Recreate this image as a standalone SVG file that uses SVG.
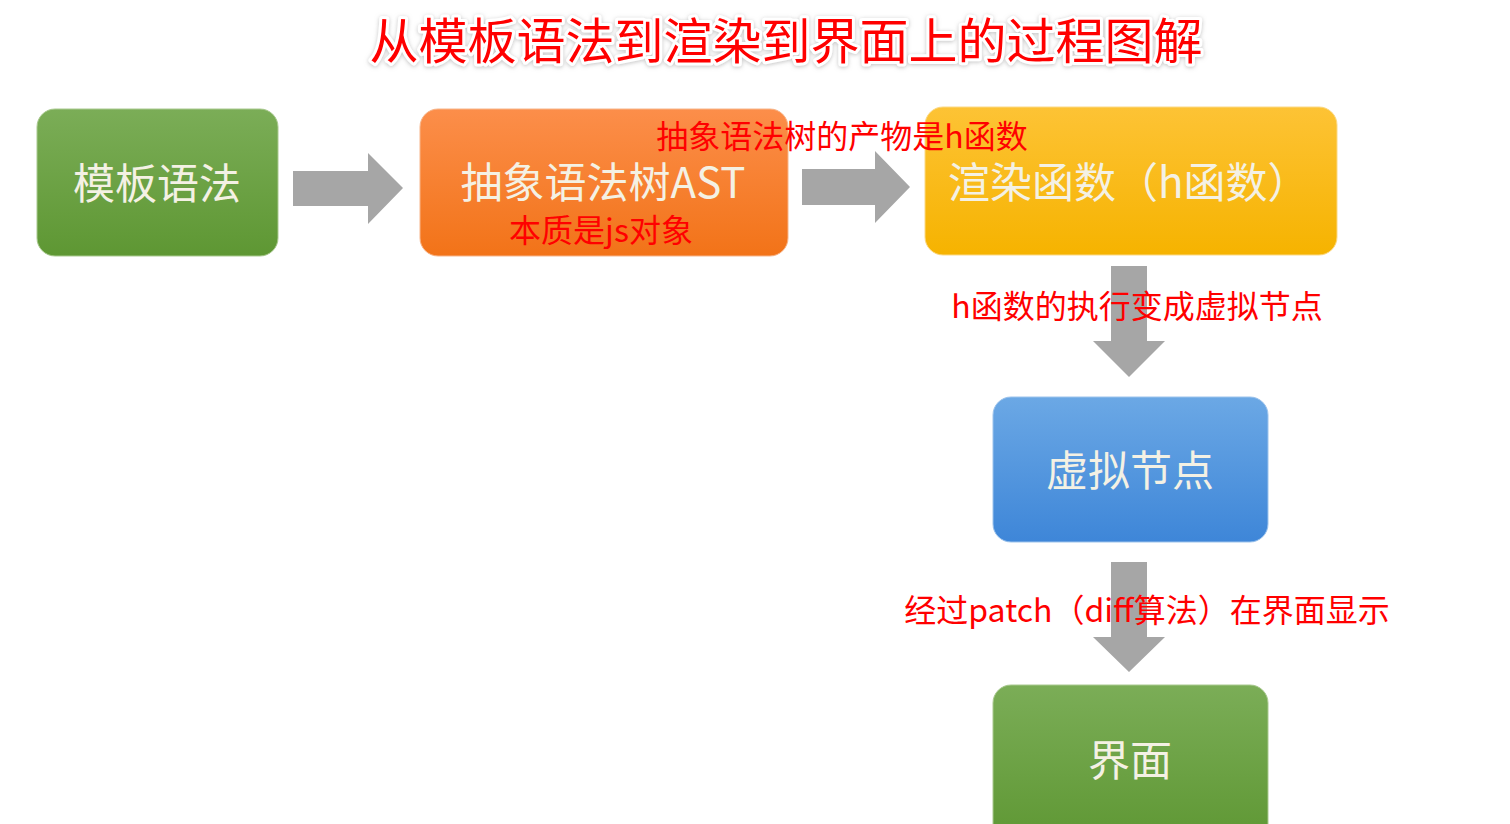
<svg xmlns="http://www.w3.org/2000/svg" width="1510" height="824" viewBox="0 0 1510 824">
<style>
.box-text{font-family:"Noto Sans CJK SC","Noto Sans",sans-serif;font-size:42px;fill:#f4f1e4;text-anchor:middle}
.note{font-family:"Noto Sans CJK SC","Noto Sans",sans-serif;font-size:32px;fill:#ff0000}
.arrow{fill:#a6a6a6}
.title{font-family:"Noto Sans CJK SC","Noto Sans",sans-serif;font-size:49px;fill:#ff0000;stroke:#ffffff;stroke-width:6px;paint-order:stroke;stroke-linejoin:round;text-anchor:middle}
</style>
<defs>
<linearGradient id="gGreen" x1="0" y1="0" x2="0" y2="1"><stop offset="0" stop-color="#7bad57"/><stop offset="1" stop-color="#5e9733"/></linearGradient>
<linearGradient id="gOrange" x1="0" y1="0" x2="0" y2="1"><stop offset="0" stop-color="#fc8e4a"/><stop offset="1" stop-color="#f27318"/></linearGradient>
<linearGradient id="gYellow" x1="0" y1="0" x2="0" y2="1"><stop offset="0" stop-color="#fdc335"/><stop offset="1" stop-color="#f6b300"/></linearGradient>
<linearGradient id="gBlue" x1="0" y1="0" x2="0" y2="1"><stop offset="0" stop-color="#6ba8e5"/><stop offset="1" stop-color="#3e86d8"/></linearGradient>
<filter id="shadow" x="-5%" y="-20%" width="110%" height="140%"><feDropShadow dx="0" dy="1" stdDeviation="2" flood-color="#999999" flood-opacity="0.6"/></filter>
</defs>
<rect width="1510" height="824" fill="#ffffff"/>
<text class="title" x="786" y="59" filter="url(#shadow)">从模板语法到渲染到界面上的过程图解</text>
<g id="connectors">
<path class="arrow" d="M293,171 H368 V153 L403,188 L368,224 V206 H293 Z"/>
<path class="arrow" d="M802,169 H875 V151 L910,187 L875,223 V205 H802 Z"/>
<path class="arrow" d="M1111,266 V341 H1093 L1129,377 L1165,341 H1147 V266 Z"/>
<path class="arrow" d="M1111,562 V637 H1093 L1129,672 L1165,637 H1147 V562 Z"/>
</g>
<g id="node-template">
<rect x="37" y="109" width="241" height="147" rx="18" fill="url(#gGreen)" stroke="#a9c98f" stroke-width="1"/>
<text class="box-text" x="157" y="199">模板语法</text>
</g>
<g id="node-ast">
<rect x="420" y="109" width="368" height="147" rx="18" fill="url(#gOrange)" stroke="#f7b58a" stroke-width="1"/>
<text class="box-text" x="603" y="198">抽象语法树AST</text>
</g>
<g id="node-render">
<rect x="925" y="107" width="412" height="148" rx="18" fill="url(#gYellow)" stroke="#fbd986" stroke-width="1"/>
<text class="box-text" x="948" y="198" style="text-anchor:start">渲染函数（h函数）</text>
</g>
<g id="node-vnode">
<rect x="993" y="397" width="275" height="145" rx="18" fill="url(#gBlue)" stroke="#9cc3ec" stroke-width="1"/>
<text class="box-text" x="1130" y="486">虚拟节点</text>
</g>
<g id="node-ui">
<rect x="993" y="685" width="275" height="160" rx="18" fill="url(#gGreen)" stroke="#a9c98f" stroke-width="1"/>
<text class="box-text" x="1130" y="776">界面</text>
</g>
<g id="notes">
<text class="note" x="601" y="242" text-anchor="middle">本质是js对象</text>
<text class="note" x="842" y="148" text-anchor="middle">抽象语法树的产物是h函数</text>
<text class="note" x="1137" y="318" text-anchor="middle">h函数的执行变成虚拟节点</text>
<text class="note" x="1147" y="622" text-anchor="middle">经过patch（diff算法）在界面显示</text>
</g>
</svg>
